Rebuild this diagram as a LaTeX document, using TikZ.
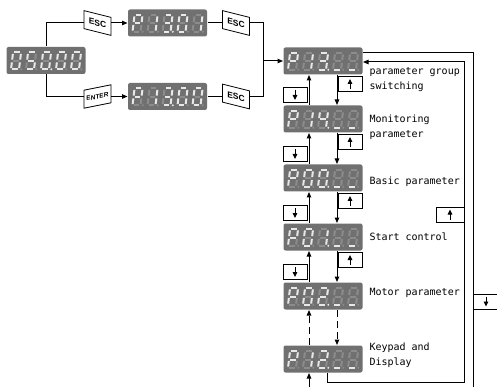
\documentclass[tikz,border=0pt]{standalone}
\usepackage{fontspec}
\usetikzlibrary{arrows.meta}
\newfontfamily\monof{DejaVu Sans Mono}
\newfontfamily\keyf{Liberation Sans}
\definecolor{dispgray}{RGB}{112,112,112}
\definecolor{segon}{RGB}{232,232,232}
\definecolor{segoff}{RGB}{140,140,140}
\def\segO{1111110}
\def\segA{0110000}
\def\segB{1101101}
\def\segC{1111001}
\def\segD{0110011}
\def\segE{1011011}
\def\segP{1100111}
\def\segU{0001000}
\newcommand\segone[2]{\ifnum#1=1\relax\def\segst{segonst}\else\def\segst{segoffst}\fi\draw[\segst] #2;}
\newcommand\segdigit[3]{\def\sgx{#1}\def\sgdp{#3}\expandafter\segparse#2\relax}
\def\segparse#1#2#3#4#5#6#7\relax{%
 \begin{scope}[shift={(\sgx,5)}, xslant=0.12]
  \segone{#1}{(1.4,17)--(6.6,17)}
  \segone{#2}{(8,15.6)--(8,9.9)}
  \segone{#3}{(8,7.1)--(8,1.4)}
  \segone{#4}{(1.4,0)--(6.6,0)}
  \segone{#5}{(0,7.1)--(0,1.4)}
  \segone{#6}{(0,15.6)--(0,9.9)}
  \segone{#7}{(1.4,8.5)--(6.6,8.5)}
  \ifnum\sgdp=1\relax\def\dpc{segon}\else\def\dpc{segoff}\fi
  \fill[\dpc] (10.3,0.2) circle (1.1);
 \end{scope}}
\newcommand\segdisp[7]{%
 \node[disp] (#1) at (#2) {};
 \begin{scope}[shift={(#1.south west)}, x=1pt, y=1pt]
  \segdigit{5}{#3}{0}\segdigit{20}{#4}{0}\segdigit{35}{#5}{1}\segdigit{50}{#6}{0}\segdigit{65}{#7}{0}
 \end{scope}}
\tikzset{
 disp/.style={fill=dispgray, rounded corners=2pt, minimum width=79pt, minimum height=27pt, inner sep=0pt},
 segonst/.style={draw=segon, line width=2pt},
 segoffst/.style={draw=segoff, line width=2pt},
 arr/.style={-{Triangle[length=5.5pt,width=4.5pt]}},
 keybase/.style={draw, fill=white, line width=0.8pt, minimum width=27pt, minimum height=18pt, inner sep=0pt},
 esckey/.style={keybase, yslant=-0.25, font=\keyf\bfseries\fontsize{8.5}{8.5}\selectfont},
 entkey/.style={keybase, yslant=0.2, font=\keyf\bfseries\fontsize{6.5}{6.5}\selectfont},
 abox/.style={draw, fill=white, line width=0.8pt, minimum width=24pt, minimum height=15pt, inner sep=0pt},
 boxtip/.style={line width=0.9pt,-{Triangle[length=5pt,width=4.5pt]}},
 dnbox/.style={abox, path picture={\draw[boxtip] ([yshift=-2.5pt]path picture bounding box.north) -- ([yshift=2.5pt]path picture bounding box.south);}},
 upbox/.style={abox, path picture={\draw[boxtip] ([yshift=2.5pt]path picture bounding box.south) -- ([yshift=-2.5pt]path picture bounding box.north);}},
 lab/.style={anchor=west, align=left, inner sep=0pt, font=\monof\fontsize{10}{15}\selectfont},
}
\begin{document}
\begin{tikzpicture}[x=1pt, y=-1pt, line width=1pt]
\useasboundingbox (0,0) rectangle (497,387);
% left part
\segdisp{D0}{46,60.5}{\segO}{\segE}{\segO}{\segO}{\segO}
\segdisp{D1}{167.5,23}{\segP}{\segA}{\segC}{\segO}{\segA}
\segdisp{D2}{167.5,96.5}{\segP}{\segA}{\segC}{\segO}{\segO}
\node[esckey] (K1) at (97.5,23) {ESC};
\node[entkey] (K2) at (97.5,96.5) {ENTER};
\node[esckey] (K3) at (236,23) {ESC};
\node[esckey] (K4) at (236,96.5) {ESC};
\coordinate (J) at (263,61);
\draw (D0.north) |- (K1.west |- K1.center);
\draw (D0.south) |- (K2.west |- K2.center);
\draw[arr] (K1.east |- K1.center) -- (D1.west);
\draw[arr] (K2.east |- K2.center) -- (D2.west);
\draw (D1.east) -- (K3.west |- K3.center);
\draw (D2.east) -- (K4.west |- K4.center);
\draw (K3.east |- K3.center) -| (J);
\draw (K4.east |- K4.center) -| (J);
% column
\segdisp{P13}{323,61}{\segP}{\segA}{\segC}{\segU}{\segU}
\segdisp{P14}{323,119}{\segP}{\segA}{\segD}{\segU}{\segU}
\segdisp{P00}{323,178}{\segP}{\segO}{\segO}{\segU}{\segU}
\segdisp{P01}{323,237}{\segP}{\segO}{\segA}{\segU}{\segU}
\segdisp{P02}{323,296}{\segP}{\segO}{\segB}{\segU}{\segU}
\segdisp{P12}{323,359}{\segP}{\segA}{\segB}{\segU}{\segU}
\draw[arr] (J) -- (P13.west);
\coordinate (cu) at (309,0);
\coordinate (cd) at (337,0);
\foreach \a/\b in {P13/P14, P14/P00, P00/P01, P01/P02}{
  \draw[arr] (\b.north -| cu) -- (\a.south -| cu);
  \draw[arr] (\a.south -| cd) -- (\b.north -| cd);
}
\draw[arr, dash pattern=on 7pt off 4pt] (P12.north -| cu) -- (P02.south -| cu);
\draw[arr, dash pattern=on 7pt off 4pt] (P02.south -| cd) -- (P12.north -| cd);
\node[dnbox] (L1) at (295,95) {};
\node[dnbox] (L2) at (295,154) {};
\node[dnbox] (L3) at (295,213) {};
\node[dnbox] (L4) at (295,272) {};
\node[upbox] (R1) at (350,84) {};
\node[upbox] (R2) at (350,142) {};
\node[upbox] (R3) at (350,201) {};
\node[upbox] (R4) at (350,260) {};
% return loops
\coordinate (lb) at (327,382);
\coordinate (li) at (464,62);
\coordinate (lo) at (473,53);
\coordinate (lobot) at (473,387);
\coordinate (bin) at (309,387);
\draw[arr] (P12.south -| lb) -- (lb) -| (li) -- (P13.east |- li);
\draw (P13.east |- lo) -- (lo) -- (lobot);
\draw[arr] (bin) -- (P12.south -| bin);
\node[upbox, minimum width=28pt] (RI) at (450,214.5) {};
\node[dnbox, minimum width=26pt] (RO) at (486,301.5) {};
% labels
\node[lab] (t1) at (369,79.5) {parameter group\\switching};
\node[lab] (t2) at (369,127) {Monitoring\\parameter};
\node[lab] (t3) at (369,182) {Basic parameter};
\node[lab] (t4) at (369,237) {Start control};
\node[lab] (t5) at (369,293) {Motor parameter};
\node[lab] (t6) at (369,355) {Keypad and\\Display};
\end{tikzpicture}
\end{document}
